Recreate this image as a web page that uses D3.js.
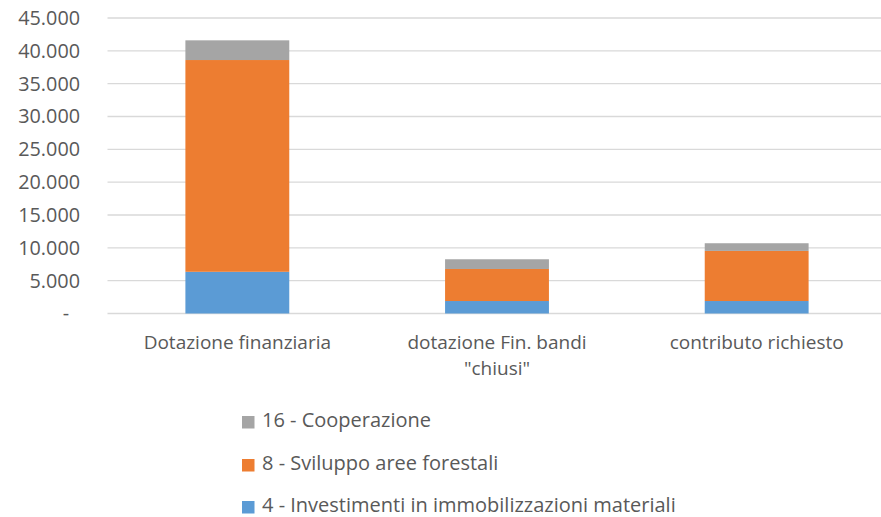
<!DOCTYPE html>
<html>
<head>
<meta charset="utf-8">
<script src="https://cdn.jsdelivr.net/npm/d3@7/dist/d3.min.js"></script>
<style>
  html, body { margin: 0; padding: 0; background: #fff; }
  svg { display: block; }
  text { font-family: "Open Sans", "Noto Sans", sans-serif; fill: #595959; }
</style>
</head>
<body>
<svg id="chart" width="881" height="517"></svg>
<script>
const categories = ["Dotazione finanziaria", "dotazione Fin. bandi \"chiusi\"", "contributo richiesto"];
const seriesNames = ["4 - Investimenti in immobilizzazioni materiali", "8 - Sviluppo aree forestali", "16 - Cooperazione"];
const misura4 = [6350, 1900, 1900];
const misura8 = [32250, 4880, 7630];
const misura16 = [3000, 1480, 1170];
const tickValues = [0, 5000, 10000, 15000, 20000, 25000, 30000, 35000, 40000, 45000];
const tickLabels = ["-", "5.000", "10.000", "15.000", "20.000", "25.000", "30.000", "35.000", "40.000", "45.000"];
const colors = ["#5b9bd5", "#ed7d31", "#a5a5a5"];

const svg = d3.select("#chart");
const W = 881, H = 517;
const plot = { left: 107.5, right: 886.5, top: 18, bottom: 313.5 };

const x = d3.scaleBand().domain(categories).range([plot.left, plot.right]).paddingInner(0.6).paddingOuter(0.3);
const y = d3.scaleLinear().domain([0, 45000]).range([plot.bottom, plot.top]);

// gridlines
svg.append("g").selectAll("line").data(tickValues).join("line")
  .attr("x1", plot.left).attr("x2", W)
  .attr("y1", d => y(d)).attr("y2", d => y(d))
  .attr("stroke", "#d9d9d9").attr("stroke-width", 1.3);

// y axis labels
const yAxis = d3.axisLeft(y).tickValues(tickValues).tickSize(0).tickPadding(0)
  .tickFormat((d, i) => tickLabels[i]);
const gy = svg.append("g").attr("transform", "translate(80,0)").call(yAxis);
gy.select(".domain").remove();
gy.selectAll("text").attr("font-size", 19.8).attr("fill", "#595959")
  .style("font-family", "'Open Sans', sans-serif")
  .attr("dx", d => d === 0 ? -11 : 0);

// stacked data
const table = categories.map((c, i) => ({ cat: c, s0: misura4[i], s1: misura8[i], s2: misura16[i] }));
const stack = d3.stack().keys(["s0", "s1", "s2"]);
const layers = stack(table);

svg.append("g").selectAll("g").data(layers).join("g")
  .attr("fill", (d, i) => colors[i])
  .selectAll("rect").data(d => d).join("rect")
  .attr("x", d => x(d.data.cat))
  .attr("width", x.bandwidth())
  .attr("y", d => y(d[1]))
  .attr("height", d => y(d[0]) - y(d[1]));

// x axis labels with wrapping
const xAxis = d3.axisBottom(x).tickSize(0).tickPadding(0);
const gx = svg.append("g").attr("transform", `translate(0,${plot.bottom})`).call(xAxis);
gx.select(".domain").remove();
gx.selectAll("text").attr("font-size", 19).attr("fill", "#595959")
  .style("font-family", "'Open Sans', sans-serif")
  .attr("y", 0).attr("dy", 0)
  .each(function(d) {
    const t = d3.select(this);
    const words = d.split(" ");
    t.text(null);
    let line = [], lines = [];
    let tspan = t.append("tspan").attr("x", 0).attr("y", 35);
    for (const w of words) {
      line.push(w);
      tspan.text(line.join(" "));
      if (tspan.node().getComputedTextLength() > 240 && line.length > 1) {
        line.pop();
        tspan.text(line.join(" "));
        line = [w];
        lines.push(tspan);
        tspan = t.append("tspan").attr("x", 0).attr("y", 35 + 26 * (lines.length)).text(w);
      }
    }
  });

// legend
const legendOrder = [2, 1, 0];
const legendY = [420, 463, 505];
const lg = svg.append("g");
legendOrder.forEach((si, r) => {
  lg.append("rect").attr("x", 242).attr("y", legendY[r] - 4).attr("width", 12.5).attr("height", 12.5).attr("fill", colors[si]);
  lg.append("text").attr("x", 262).attr("y", legendY[r]).attr("dy", "0.35em")
    .attr("font-size", 20).text(seriesNames[si]);
});
</script>
</body>
</html>
